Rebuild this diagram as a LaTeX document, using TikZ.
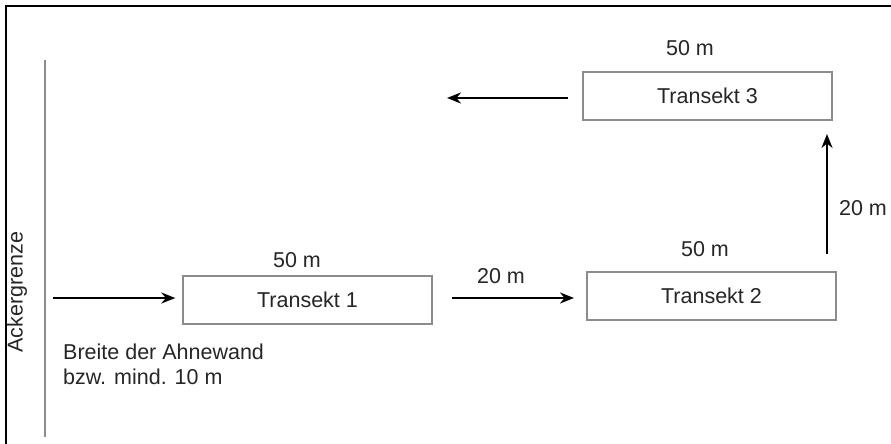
\documentclass[tikz,border=0pt]{standalone}
\usepackage{fontspec}
\setmainfont{Liberation Sans}
\usetikzlibrary{arrows.meta}
\begin{document}
\begin{tikzpicture}[x=1pt,y=-1pt,
  tbox/.style={draw=black!45,line width=1.4pt,minimum width=249pt,minimum height=48pt,inner sep=0pt,font=\fontsize{21.5}{26}\selectfont,text=black!85},
  lbl/.style={font=\fontsize{21.5}{26}\selectfont,text=black!85,inner sep=0pt},
  arr/.style={line width=2.2pt,-{Stealth[length=14pt,width=11pt]}}]
\useasboundingbox (0,0) rectangle (891,444);
\fill[white] (0,0) rectangle (891,444);
\draw[line width=2pt] (6,444) -- (6,6) -- (891,6);
% Ackergrenze line
\draw[black!45,line width=2.2pt] (45,60) -- (45,437);
\node[lbl,rotate=90] (acker) at (17,292) {Ackergrenze};
% boxes
\node[tbox] (t1) at (307.5,300) {Transekt 1};
\node[tbox] (t2) at (711.5,296) {Transekt 2};
\node[tbox] (t3) at (707.5,96) {Transekt 3};
% labels
\node[lbl] (l1) at (297,260) {50 m};
\node[lbl] (l2) at (705,249) {50 m};
\node[lbl] (l3) at (690,48) {50 m};
\node[lbl] (l4) at (501,276) {20 m};
\node[lbl] (l5) at (863,208) {20 m};
\node[lbl,align=left,anchor=north west] (br) at (63,344) {Breite der Ahnewand\\[-1pt]bzw. mind. 10 m};
% coordinates
\coordinate (s1) at (53,298);
\coordinate (s2a) at (452,298);
\coordinate (s2b) at (574,298);
\coordinate (v1) at (827,254);
\coordinate (v2) at (827,134);
\coordinate (e3) at (447,98);
\coordinate (s3) at (568,98);
% arrows
\draw[arr] (s1) -- (s1 -| t1.west) [shorten >=7pt];
\draw[arr] (s2a) -- (s2b);
\draw[arr] (v1) -- (v2);
\draw[arr] (s3) -- (e3);
\end{tikzpicture}
\end{document}
